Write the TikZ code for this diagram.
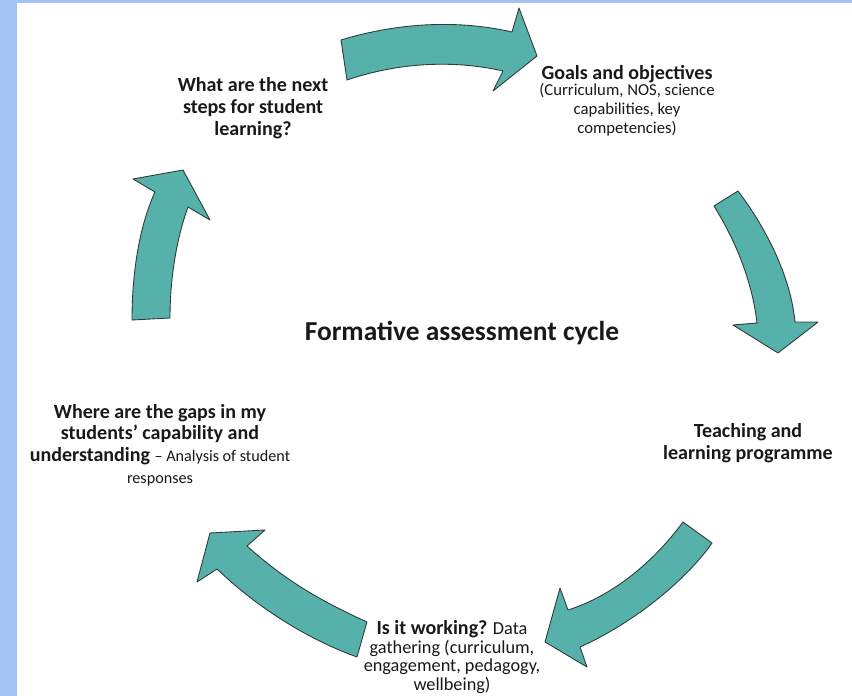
\documentclass[tikz,border=0pt]{standalone}
\usepackage{fontspec}
\setmainfont{Carlito}
\usetikzlibrary{arrows,shapes}
\definecolor{teal}{HTML}{56B1AA}
\definecolor{edge}{HTML}{2F3A38}
\definecolor{frame}{HTML}{A4C2F4}
\tikzset{bigarrow/.style={fill=teal,draw=edge,line width=0.5pt,line join=round},
lbl/.style={align=center,text=black!90,font=\fontsize{11.4}{12.4}\selectfont\bfseries}}

\begin{document}
\begin{tikzpicture}[x=0.02cm,y=-0.02cm]
\useasboundingbox (0,0) rectangle (852,696);
\fill[white] (0,0) rectangle (852,696);
\fill[frame] (0,0) rectangle (17,696);
\fill[frame] (0,0) rectangle (852,3);

% the five arrows of the cycle
\draw[bigarrow] (341,40) .. controls (400,22) and (460,20) .. (512,32) -- (519,8) -- (537,56) -- (493,91) -- (503,71) .. controls (455,60) and (400,62) .. (347,80) -- cycle;
\draw[bigarrow] (714,206) -- (738,191) .. controls (760,220) and (790,270) .. (795,322) -- (818,322) -- (778,353) -- (733,325) -- (757,323) .. controls (752,280) and (735,240) .. (714,206) -- cycle;
\draw[bigarrow] (683,522) -- (712,543) .. controls (690,575) and (640,620) .. (580,647) -- (587,667) -- (545,642) -- (560,588) -- (568,610) .. controls (615,595) and (655,560) .. (683,522) -- cycle;
\draw[bigarrow] (210,533) -- (265,530) -- (247,546) .. controls (290,585) and (330,605) .. (367,622) -- (357,657) .. controls (310,640) and (260,610) .. (217,569) -- (197,582) -- cycle;
\draw[bigarrow] (132,320) .. controls (132,270) and (140,225) .. (155,192) -- (133,179) -- (183,170) -- (210,220) -- (188,207) .. controls (176,240) and (170,280) .. (170,318) -- cycle;

\node[lbl] (steps) at (253,108) {What are the next\\steps for student\\learning?};
\node[lbl,anchor=north] (goals) at (627,59) {Goals and objectives\\[-3pt]
{\mdseries\fontsize{9.5}{10.4}\selectfont (Curriculum, NOS, science}\\[-1.6pt]
{\mdseries\fontsize{9.5}{10.4}\selectfont capabilities, key}\\[-1.6pt]
{\mdseries\fontsize{9.5}{10.4}\selectfont competencies)}};
\node[lbl,font=\fontsize{15.6}{17}\selectfont\bfseries] (cycle) at (462,333) {Formative assessment cycle};
\node[lbl] (teach) at (748,443) {Teaching and\\learning programme};
\node[lbl] (gaps) at (160,445) {Where are the gaps in my\\students' capability and\\
understanding {\mdseries\fontsize{9.2}{12.4}\selectfont -- Analysis of student}\\
{\mdseries\fontsize{9.2}{12.4}\selectfont responses}};
\node[lbl,font=\fontsize{10.4}{10.6}\selectfont] (working) at (452,657) {{\fontsize{11.4}{10.6}\selectfont\bfseries Is it working?} Data\\
gathering (curriculum,\\engagement, pedagogy,\\wellbeing)};
\end{tikzpicture}
\end{document}
